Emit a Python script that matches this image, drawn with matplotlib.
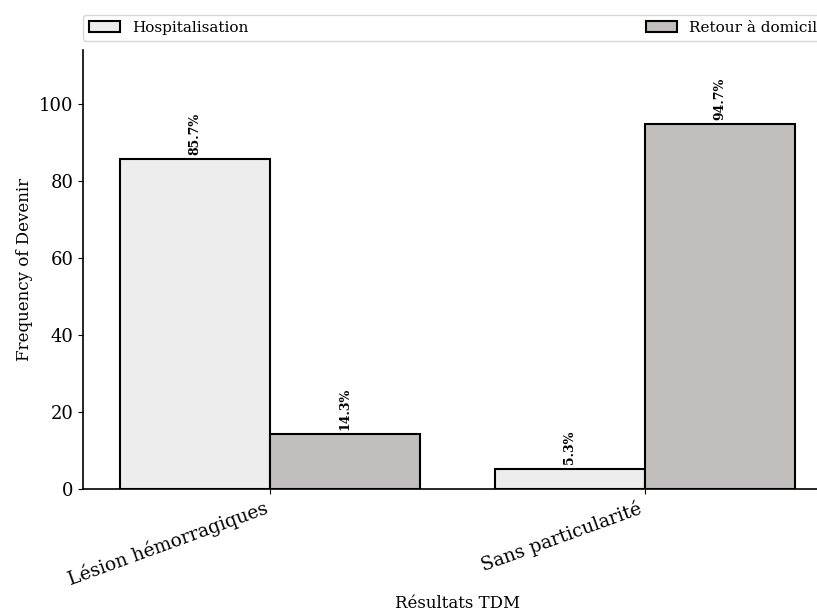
import numpy as np
import matplotlib.pyplot as plt

plt.rcParams["font.family"] = "DejaVu Serif"

categories = ["Lésion hémorragiques", "Sans particularité"]
series_names = ["Hospitalisation", "Retour à domicile"]
hospitalisation = [85.7, 5.3]
retour = [14.3, 94.7]
colors = ["#ededed", "#c0bfbd"]

fig = plt.figure(figsize=(8.17, 6.15), dpi=100)
ax = fig.add_axes([83 / 817, 1 - 489 / 615, 749 / 817, 439 / 615])

x = np.arange(len(categories))
width = 0.4
series = [hospitalisation, retour]
for i, (name, vals) in enumerate(zip(series_names, series)):
    pos = x - width / 2 + i * width
    bars = ax.bar(pos, vals, width, color=colors[i], edgecolor="black",
                  linewidth=1.5, label=name)
    for b, v in zip(bars, vals):
        ax.annotate(f"{v}%", (b.get_x() + b.get_width() / 2, v),
                    xytext=(0, 3), textcoords="offset points",
                    ha="center", va="bottom", rotation=90,
                    fontsize=9, fontweight="bold")

ax.set_xlim(-0.5, 1.5)
ax.set_ylim(0, 114)
ax.set_xticks(x)
ax.set_xticklabels(categories, rotation=20, ha="right", fontsize=13.5)
ax.tick_params(axis="y", labelsize=13)
ax.set_ylabel("Frequency of Devenir", fontsize=12)
ax.set_xlabel("Résultats TDM", fontsize=12, labelpad=4)
for s in ["top", "right"]:
    ax.spines[s].set_visible(False)
ax.spines["left"].set_linewidth(1.2)
ax.spines["bottom"].set_linewidth(1.2)

ax.legend(bbox_to_anchor=(0, 1.02, 1, 0.075), loc="lower left", ncol=2,
          mode="expand", borderaxespad=0, fontsize=11)

fig.savefig("out.png", dpi=100)
